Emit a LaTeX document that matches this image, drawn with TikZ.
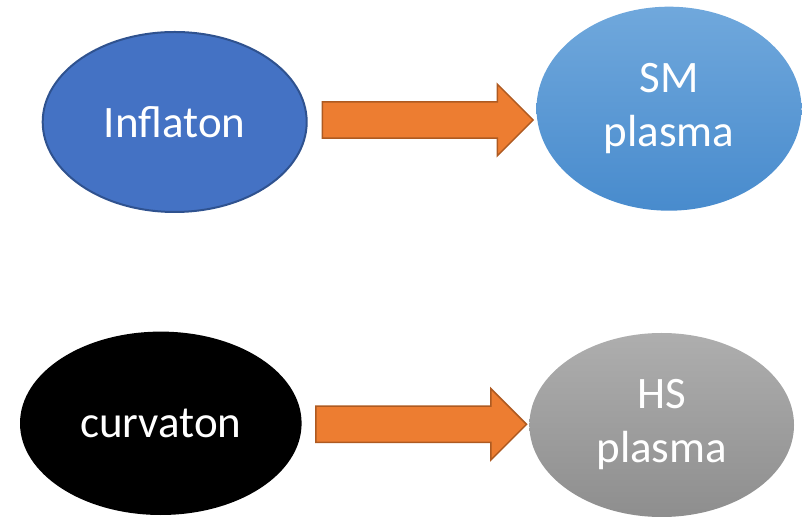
\documentclass[tikz,border=0pt]{standalone}
\usepackage{fontspec}
\setmainfont{Carlito}
\usepackage{xcolor}
\usetikzlibrary{shapes.geometric}
\usetikzlibrary{shapes.arrows}
\usetikzlibrary{positioning}

\definecolor{infblue}{RGB}{68,114,196}
\definecolor{infedge}{RGB}{47,82,143}
\definecolor{smtop}{RGB}{112,168,220}
\definecolor{smbot}{RGB}{72,139,205}
\definecolor{hstop}{RGB}{174,174,174}
\definecolor{hsbot}{RGB}{142,142,142}
\definecolor{arrfill}{RGB}{237,125,49}
\definecolor{arredge}{RGB}{174,90,33}

\begin{document}
\begin{tikzpicture}[x=0.5pt,y=-0.5pt]
\tikzstyle{blob} =[ellipse, inner sep=0pt, text=white, align=center,
  font=\fontsize{22.5}{27}\selectfont]
\tikzstyle{fatarrow} =[single arrow, draw=arredge, fill=arrfill, line width=0.75pt,
  inner sep=8.65pt, single arrow head extend=8.85pt, single arrow tip angle=90,
  minimum height=105.3pt, anchor=west]

\useasboundingbox (0,0) rectangle (802,517);

\node[blob, fill=infblue, draw=infedge, line width=1pt,
  minimum width=132pt, minimum height=90pt](inf) at (174.7,122){Inflaton};
\node[blob, top color=smtop, bottom color=smbot,
  minimum width=132.5pt, minimum height=102pt](sm) at (669,108.7){SM\\plasma};
\node[blob, fill=black,
  minimum width=140.8pt, minimum height=91.7pt](cur) at (160.8,423.3){curvaton};
\node[blob, top color=hstop, bottom color=hsbot,
  minimum width=132.3pt, minimum height=92pt](hs) at (661.7,425){HS\\plasma};

\node[fatarrow, right=7pt of inf.east, yshift=1pt](decay1){};
\node[fatarrow, right=6.6pt of cur.east, yshift=-0.5pt](decay2){};
\end{tikzpicture}
\end{document}
